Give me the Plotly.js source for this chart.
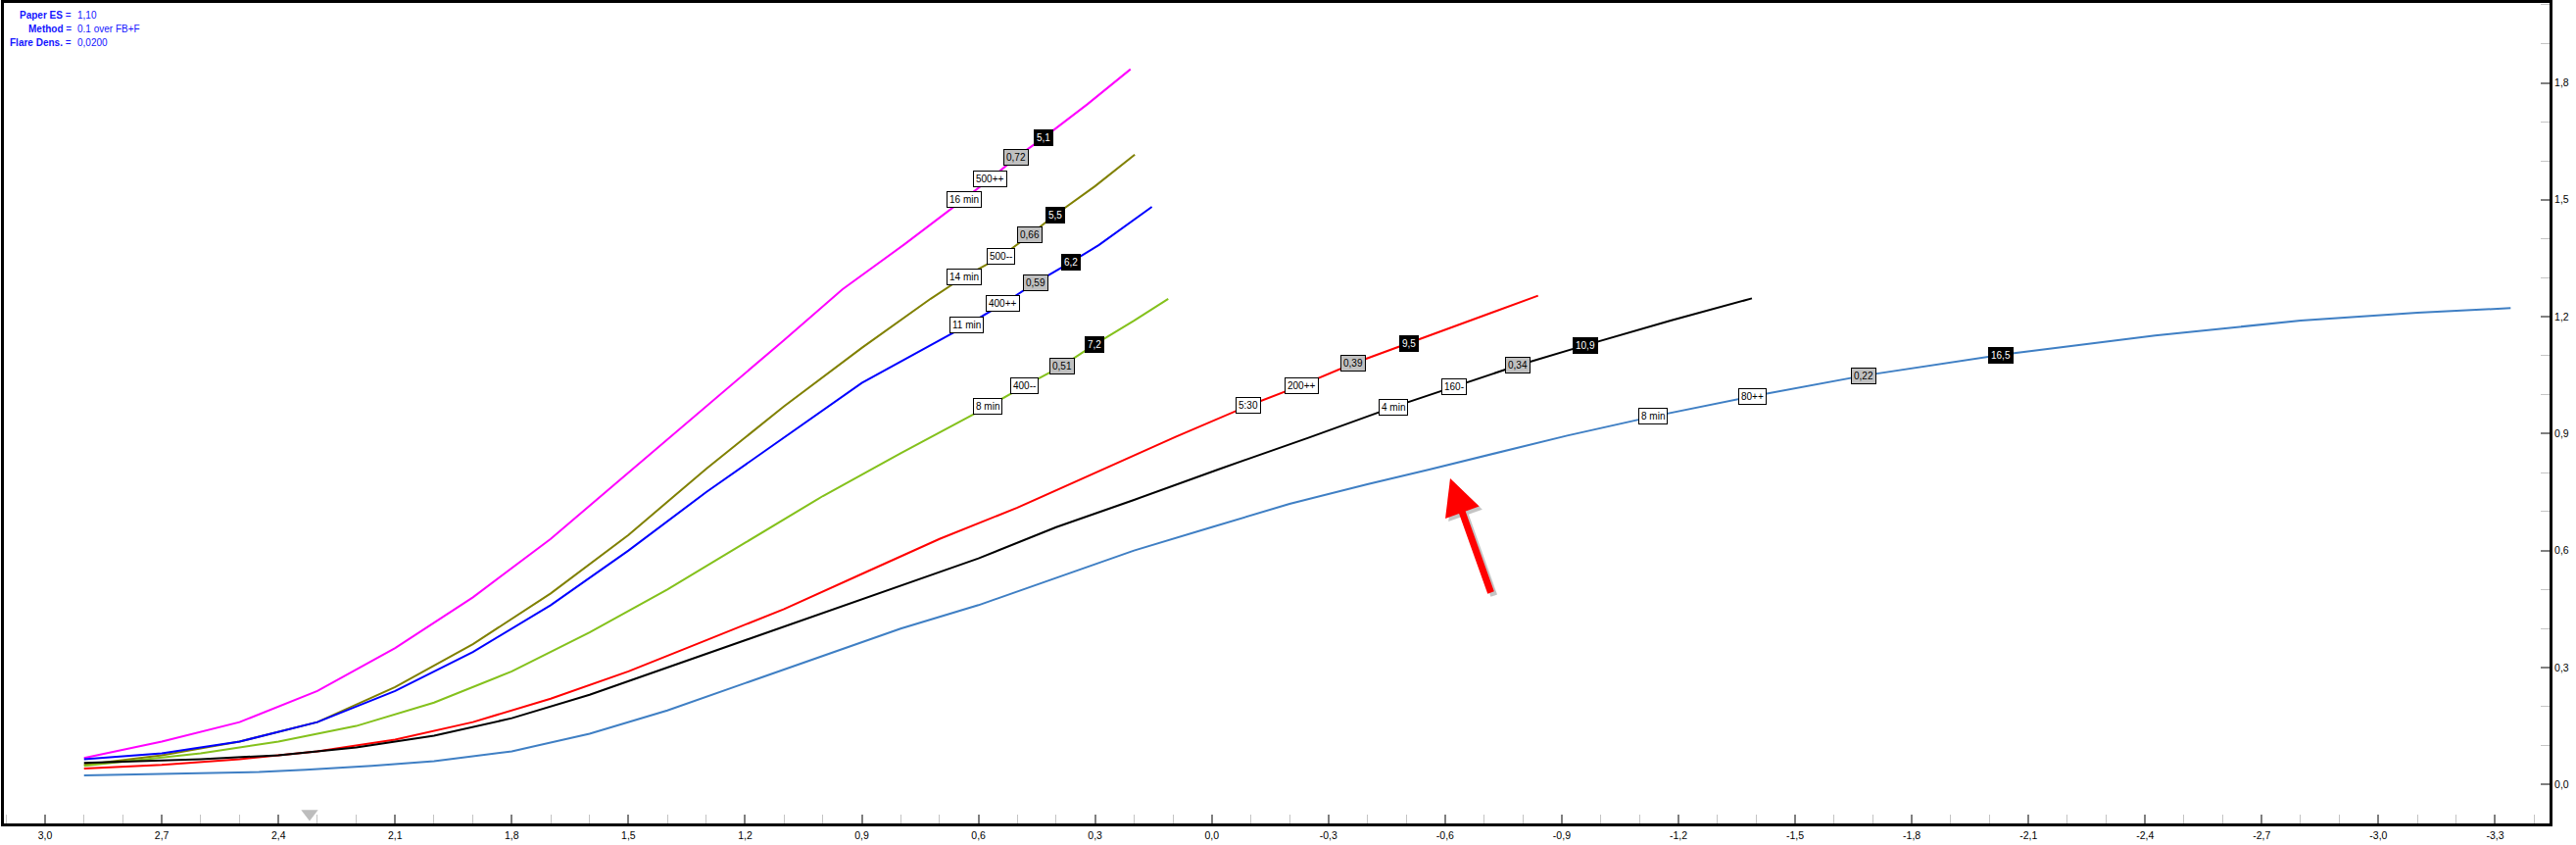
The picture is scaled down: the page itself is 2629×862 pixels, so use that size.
<!DOCTYPE html>
<html><head><meta charset="utf-8">
<script src="https://cdn.plot.ly/plotly-3.0.1.min.js"></script>
<style>html,body{margin:0;padding:0;background:#fff;overflow:hidden}#chart{width:2629px;height:862px}</style>
</head><body><div id="chart"></div>
<script>
// ---------- DATA ----------
const magentaX = [2.9, 2.7, 2.5, 2.3, 2.1, 1.9, 1.7, 1.5, 1.3, 1.1, 0.95, 0.79, 0.638, 0.569, 0.504, 0.433, 0.32, 0.209];
const magentaY = [0.068, 0.11, 0.16, 0.24, 0.35, 0.48, 0.63, 0.80, 0.97, 1.14, 1.27, 1.386, 1.501, 1.554, 1.608, 1.659, 1.745, 1.835];
const oliveX = [2.9, 2.7, 2.5, 2.3, 2.1, 1.9, 1.7, 1.5, 1.3, 1.1, 0.9, 0.723, 0.638, 0.542, 0.469, 0.403, 0.3, 0.198];
const oliveY = [0.05, 0.075, 0.11, 0.16, 0.25, 0.36, 0.49, 0.64, 0.81, 0.97, 1.12, 1.246, 1.302, 1.354, 1.409, 1.461, 1.535, 1.616];
const blueX = [2.9, 2.7, 2.5, 2.3, 2.1, 1.9, 1.7, 1.5, 1.3, 1.1, 0.9, 0.723, 0.630, 0.537, 0.452, 0.362, 0.29, 0.154];
const blueY = [0.065, 0.08, 0.11, 0.16, 0.24, 0.34, 0.46, 0.60, 0.75, 0.89, 1.03, 1.127, 1.178, 1.233, 1.288, 1.340, 1.384, 1.482];
const greenX = [2.9, 2.6, 2.4, 2.2, 2.0, 1.8, 1.6, 1.4, 1.2, 1.0, 0.8, 0.576, 0.482, 0.384, 0.301, 0.2, 0.112];
const greenY = [0.048, 0.08, 0.11, 0.15, 0.21, 0.29, 0.39, 0.50, 0.62, 0.74, 0.85, 0.969, 1.022, 1.074, 1.129, 1.19, 1.246];
const redX = [2.9, 2.7, 2.5, 2.3, 2.1, 1.9, 1.7, 1.5, 1.3, 1.1, 0.9, 0.7, 0.5, 0.3, 0.093, -0.095, -0.23, -0.364, -0.507, -0.68, -0.839];
const redY = [0.041, 0.05, 0.065, 0.085, 0.115, 0.16, 0.22, 0.29, 0.37, 0.45, 0.54, 0.63, 0.71, 0.80, 0.892, 0.972, 1.024, 1.080, 1.132, 1.195, 1.254];
const blackX = [2.9, 2.6, 2.4, 2.2, 2.0, 1.8, 1.6, 1.4, 1.2, 1.0, 0.8, 0.6, 0.4, 0.2, -0.016, -0.25, -0.466, -0.624, -0.787, -0.961, -1.18, -1.389];
const blackY = [0.055, 0.065, 0.075, 0.095, 0.125, 0.17, 0.23, 0.30, 0.37, 0.44, 0.51, 0.58, 0.66, 0.73, 0.808, 0.89, 0.968, 1.021, 1.075, 1.127, 1.19, 1.247];
const steelX = [2.9, 2.6, 2.45, 2.33, 2.16, 2.0, 1.8, 1.6, 1.4, 1.2, 1.0, 0.8, 0.6, 0.4, 0.2, 0.0, -0.2, -0.4, -0.559, -0.914, -1.134, -1.39, -1.677, -2.028, -2.426, -2.8, -3.1, -3.34];
const steelY = [0.023, 0.028, 0.032, 0.038, 0.048, 0.06, 0.085, 0.13, 0.19, 0.26, 0.33, 0.40, 0.46, 0.53, 0.60, 0.66, 0.72, 0.77, 0.808, 0.895, 0.944, 0.996, 1.049, 1.102, 1.152, 1.19, 1.21, 1.222];

const seriesColors = ['#ff00ff', '#808000', '#0000ff', '#84c11c', '#ff0000', '#000000', '#3f7fc4'];

const magentaLabels = ['16 min', '500++', '0,72', '5,1'];
const magentaLabelX = [0.638, 0.569, 0.504, 0.433];
const oliveLabels = ['14 min', '500--', '0,66', '5,5'];
const oliveLabelX = [0.638, 0.542, 0.469, 0.403];
const blueLabels = ['11 min', '400++', '0,59', '6,2'];
const blueLabelX = [0.630, 0.537, 0.452, 0.362];
const greenLabels = ['8 min', '400--', '0,51', '7,2'];
const greenLabelX = [0.576, 0.482, 0.384, 0.301];
const redLabels = ['5:30', '200++', '0,39', '9,5'];
const redLabelX = [-0.095, -0.23, -0.364, -0.507];
const blackLabels = ['4 min', '160-', '0,34', '10,9'];
const blackLabelX = [-0.466, -0.624, -0.787, -0.961];
const steelLabels = ['8 min', '80++', '0,22', '16,5'];
const steelLabelX = [-1.134, -1.39, -1.677, -2.028];

const xTickVals = [3.0, 2.7, 2.4, 2.1, 1.8, 1.5, 1.2, 0.9, 0.6, 0.3, 0.0, -0.3, -0.6, -0.9, -1.2, -1.5, -1.8, -2.1, -2.4, -2.7, -3.0, -3.3];
const xTickText = ['3,0', '2,7', '2,4', '2,1', '1,8', '1,5', '1,2', '0,9', '0,6', '0,3', '0,0', '-0,3', '-0,6', '-0,9', '-1,2', '-1,5', '-1,8', '-2,1', '-2,4', '-2,7', '-3,0', '-3,3'];
const yTickVals = [0.0, 0.3, 0.6, 0.9, 1.2, 1.5, 1.8];
const yTickText = ['0,0', '0,3', '0,6', '0,9', '1,2', '1,5', '1,8'];

const infoNames = ['Paper ES', 'Method', 'Flare Dens.'];
const infoValues = ['1,10', '0.1 over FB+F', '0,0200'];
const markerX = [2.32];

// ---------- LAYOUT CONSTANTS ----------
const W = 2629, H = 862;
const M = {l: 4, r: 27, t: 3, b: 22};
const plotW = W - M.l - M.r, plotH = H - M.t - M.b;
const xRange = [3.106, -3.44], yRange = [-0.1, 2.005];
const FONT = 'Liberation Sans, Arial, sans-serif';

function interp(xs, ys, x) {
  for (let i = 0; i < xs.length - 1; i++) {
    const a = xs[i], b = xs[i + 1];
    if ((x <= a && x >= b) || (x >= a && x <= b)) {
      const t = (x - a) / (b - a);
      return ys[i] + t * (ys[i + 1] - ys[i]);
    }
  }
  return ys[ys.length - 1];
}

const series = [
  [magentaX, magentaY, magentaLabels, magentaLabelX],
  [oliveX, oliveY, oliveLabels, oliveLabelX],
  [blueX, blueY, blueLabels, blueLabelX],
  [greenX, greenY, greenLabels, greenLabelX],
  [redX, redY, redLabels, redLabelX],
  [blackX, blackY, blackLabels, blackLabelX],
  [steelX, steelY, steelLabels, steelLabelX]
];

const traces = series.map((s, i) => ({
  type: 'scatter', mode: 'lines', x: s[0], y: s[1],
  line: {color: seriesColors[i], width: 2}, hoverinfo: 'skip', showlegend: false
}));

traces.push({
  type: 'scatter', mode: 'markers', x: markerX, y: markerX.map(() => -0.075),
  marker: {symbol: 'triangle-down', size: 15, color: '#bdbdbd', line: {width: 0}},
  hoverinfo: 'skip', showlegend: false, cliponaxis: false
});

const boxStyles = [
  {bg: '#ffffff', fg: '#000000'},
  {bg: '#ffffff', fg: '#000000'},
  {bg: '#c0c0c0', fg: '#000000'},
  {bg: '#000000', fg: '#ffffff'}
];

const annotations = [];
series.forEach(s => {
  s[2].forEach((txt, k) => {
    const st = boxStyles[k];
    annotations.push({
      x: s[3][k], y: interp(s[0], s[1], s[3][k]), xref: 'x', yref: 'y',
      text: txt, showarrow: false, xanchor: 'center', yanchor: 'middle',
      font: {family: FONT, size: 10, color: st.fg},
      bgcolor: st.bg, bordercolor: '#000000', borderwidth: 1, borderpad: 2
    });
  });
});

// info text block (top-left)
const infoRowsPx = [15, 30, 44];
const px2paperX = px => (px - M.l) / plotW;
const px2paperY = py => (H - M.b - py) / plotH;
infoNames.forEach((n, i) => {
  annotations.push({
    xref: 'paper', yref: 'paper', x: px2paperX(75), y: px2paperY(infoRowsPx[i]),
    xanchor: 'right', yanchor: 'middle', showarrow: false,
    text: '<b>' + n + '</b> =', font: {family: FONT, size: 10, color: '#1414ff'}
  });
  annotations.push({
    xref: 'paper', yref: 'paper', x: px2paperX(77), y: px2paperY(infoRowsPx[i]),
    xanchor: 'left', yanchor: 'middle', showarrow: false,
    text: infoValues[i], font: {family: FONT, size: 10, color: '#1414ff'}
  });
});

// red arrow with soft shadow
const arrowHead = [-0.613, 0.785], arrowTail = [-0.719, 0.4885];
annotations.push({
  x: arrowHead[0] - 0.008, y: arrowHead[1] - 0.008, ax: arrowTail[0] - 0.008, ay: arrowTail[1] - 0.008,
  xref: 'x', yref: 'y', axref: 'x', ayref: 'y', text: '', showarrow: true,
  arrowhead: 2, arrowsize: 1.05, arrowwidth: 7, arrowcolor: 'rgba(90,90,90,0.35)', standoff: 0
});
annotations.push({
  x: arrowHead[0], y: arrowHead[1], ax: arrowTail[0], ay: arrowTail[1],
  xref: 'x', yref: 'y', axref: 'x', ayref: 'y', text: '', showarrow: true,
  arrowhead: 2, arrowsize: 1.05, arrowwidth: 7, arrowcolor: '#ff0000', standoff: 0
});

const axisCommon = {
  showline: true, linewidth: 3, linecolor: '#000000', mirror: true,
  showgrid: false, zeroline: false, ticks: 'inside', ticklen: 9, tickwidth: 2, tickcolor: '#7f7f7f',
  tickmode: 'array', tickfont: {family: FONT, size: 10.5, color: '#000000'},
  minor: {dtick: 0.1, tick0: 0, ticks: 'inside', ticklen: 9, tickwidth: 1, tickcolor: '#c4c4c4', showgrid: false},
  fixedrange: true
};

const layout = {
  width: W, height: H, margin: M,
  paper_bgcolor: '#ffffff', plot_bgcolor: '#ffffff',
  showlegend: false,
  xaxis: Object.assign({}, axisCommon, {range: xRange, tickvals: xTickVals, ticktext: xTickText}),
  yaxis: Object.assign({}, axisCommon, {range: yRange, side: 'right', tickvals: yTickVals, ticktext: yTickText}),
  annotations: annotations
};

Plotly.newPlot('chart', traces, layout, {staticPlot: true, displayModeBar: false});
</script>
</body></html>
